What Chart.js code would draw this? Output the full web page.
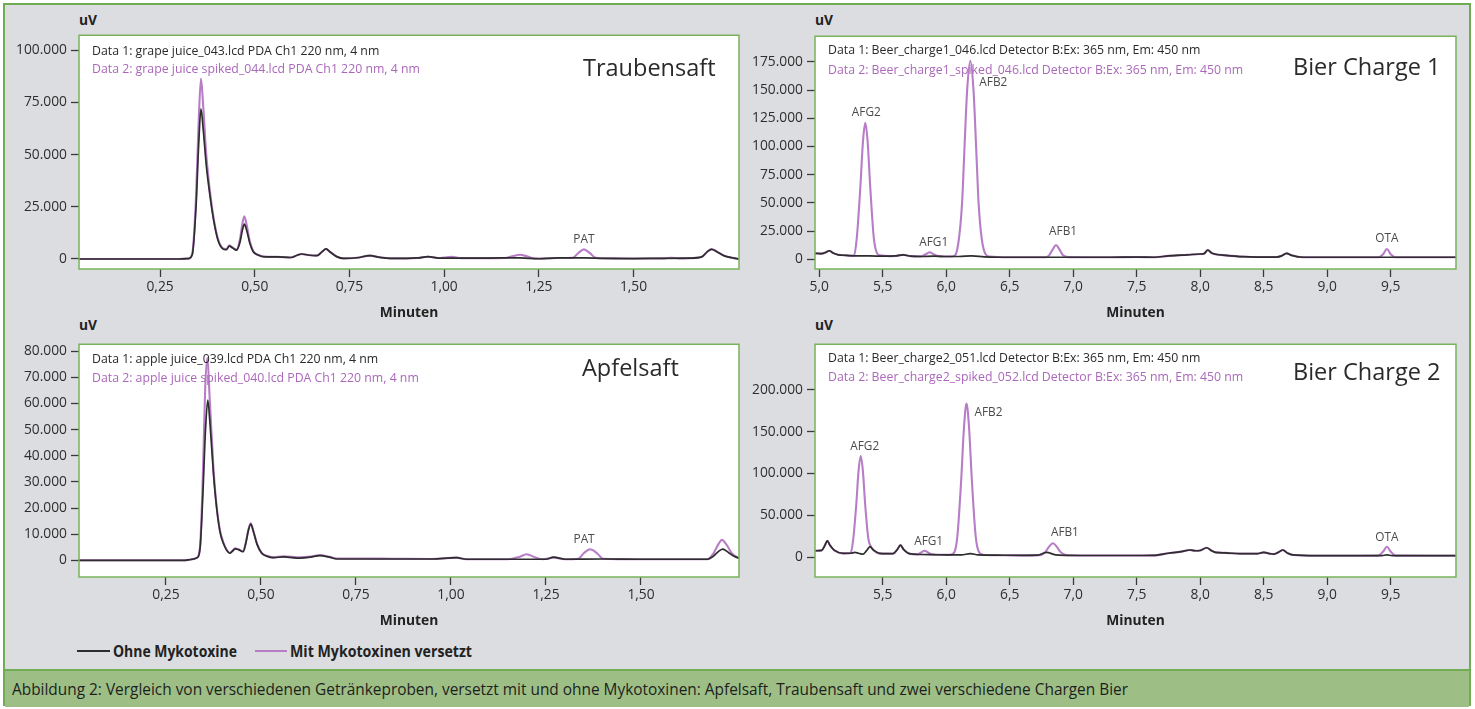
<!DOCTYPE html>
<html>
<head>
<meta charset="utf-8">
<script src="https://cdn.jsdelivr.net/npm/chart.js@4.4.1/dist/chart.umd.min.js"></script>
<style>
  html, body { margin: 0; padding: 0; background: #ffffff; }
  body { width: 1475px; height: 709px; position: relative; overflow: hidden; font-family: "Open Sans", sans-serif; }
  #frame { position: absolute; left: 3px; top: 3px; width: 1464px; height: 699px; border: 2px solid #70ad52; background: #dcdde0; }
  #caption { position: absolute; left: 5px; top: 669px; width: 1464px; height: 36px; background: #9dbf86; border-top: 2px solid #70ad52; }
  #captionText { position: absolute; left: 7px; top: 8px; font-size: 16.5px; color: #1e1e1e; line-height: 20px; white-space: nowrap; }
  canvas { position: absolute; }
  .unit { position: absolute; font-weight: 700; font-size: 13.8px; color: #222; line-height: 16px; }
  .lg-line { position: absolute; height: 2px; }
  .lg-text { position: absolute; font-weight: 700; font-size: 16px; color: #222; line-height: 18px; white-space: nowrap; }
  .fit { transform-origin: left center; }
</style>
</head>
<body>
<div id="frame"></div>

<div class="unit" style="left:79px; top:12px;">uV</div>
<div class="unit" style="left:815px; top:12px;">uV</div>
<div class="unit" style="left:79px; top:317px;">uV</div>
<div class="unit" style="left:815px; top:317px;">uV</div>

<canvas id="cGrape"></canvas>
<canvas id="cBeer1"></canvas>
<canvas id="cApple"></canvas>
<canvas id="cBeer2"></canvas>

<div class="lg-line" style="left:77px; top:650px; width:33px; background:#2d2d2d;"></div>
<div class="lg-text fit" data-width="124" style="left:113px; top:642px;">Ohne Mykotoxine</div>
<div class="lg-line" style="left:255px; top:650px; width:32px; background:#b77dc6;"></div>
<div class="lg-text fit" data-width="182" style="left:290px; top:642px;">Mit Mykotoxinen versetzt</div>

<div id="caption"><div id="captionText" class="fit" data-width="1116">Abbildung 2: Vergleich von verschiedenen Getränkeproben, versetzt mit und ohne Mykotoxinen: Apfelsaft, Traubensaft und zwei verschiedene Chargen Bier</div></div>

<script>
// ---------- Traubensaft (grape juice), PDA 220 nm ----------
const grapeTimeTicks = [0.25, 0.5, 0.75, 1.0, 1.25, 1.5];
const grapeTimeLabels = ['0,25', '0,50', '0,75', '1,00', '1,25', '1,50'];
const grapeUvTicks = [0, 25000, 50000, 75000, 100000];
const grapeUvLabels = ['0', '25.000', '50.000', '75.000', '100.000'];
const grapeOhne = [
  [0.036,0],[0.30,0],[0.325,200],[0.335,2000],[0.345,25000],[0.352,55000],[0.358,72000],[0.364,62000],
  [0.372,45000],[0.382,30000],[0.392,18000],[0.403,9000],[0.415,5000],[0.425,4500],[0.433,6200],[0.442,5200],
  [0.452,4200],[0.461,8000],[0.467,13500],[0.4725,16700],[0.479,13500],[0.487,7500],[0.496,3500],[0.51,1800],
  [0.523,1100],[0.56,1000],[0.595,700],[0.612,1800],[0.624,2400],[0.64,1900],[0.664,1600],[0.678,3500],
  [0.688,4800],[0.70,3200],[0.718,1000],[0.734,300],[0.77,600],[0.804,1600],[0.83,800],[0.857,300],
  [0.90,300],[0.93,500],[0.958,1100],[0.985,400],[1.02,400],[1.08,400],[1.15,500],[1.20,500],[1.25,100],
  [1.30,500],[1.37,500],[1.42,300],[1.50,200],[1.58,300],[1.65,400],[1.68,1000],[1.695,3500],[1.706,4600],
  [1.72,3500],[1.74,1500],[1.76,600],[1.778,0]
];
const grapeMit = [
  [0.036,0],[0.30,0],[0.325,200],[0.335,2500],[0.345,30000],[0.352,66000],[0.358,86500],[0.364,73000],
  [0.372,50000],[0.382,32000],[0.392,19000],[0.403,9500],[0.415,5200],[0.425,4700],[0.433,6500],[0.442,5400],
  [0.452,4500],[0.461,9500],[0.467,16500],[0.4725,20500],[0.479,16000],[0.487,8500],[0.496,3800],[0.51,1900],
  [0.523,1100],[0.56,1000],[0.595,700],[0.612,1800],[0.624,2400],[0.64,1900],[0.664,1600],[0.678,3500],
  [0.688,4800],[0.70,3200],[0.718,1000],[0.734,300],[0.77,600],[0.804,1600],[0.83,800],[0.857,300],
  [0.90,300],[0.93,500],[0.958,1100],[0.985,500],[1.00,700],[1.02,1000],[1.045,400],[1.10,400],[1.16,500],
  [1.18,1300],[1.20,2000],[1.22,1200],[1.24,200],[1.30,500],[1.34,600],[1.355,3000],[1.369,4600],[1.385,2800],
  [1.40,600],[1.45,300],[1.50,200],[1.58,300],[1.60,600],[1.62,300],[1.65,400],[1.68,1000],[1.695,3500],
  [1.706,4800],[1.72,3500],[1.74,1500],[1.76,600],[1.778,0]
];
const grapePeakNames = ['PAT'];
const grapePeakTimes = [1.369];

// ---------- Apfelsaft (apple juice), PDA 220 nm ----------
const appleTimeTicks = [0.25, 0.5, 0.75, 1.0, 1.25, 1.5];
const appleTimeLabels = ['0,25', '0,50', '0,75', '1,00', '1,25', '1,50'];
const appleUvTicks = [0, 10000, 20000, 30000, 40000, 50000, 60000, 70000, 80000];
const appleUvLabels = ['0', '10.000', '20.000', '30.000', '40.000', '50.000', '60.000', '70.000', '80.000'];
const appleOhne = [
  [0.021,0],[0.30,0],[0.315,300],[0.332,1000],[0.34,5000],[0.347,25000],[0.354,50000],[0.36,61300],
  [0.366,52000],[0.375,33000],[0.383,20500],[0.392,11000],[0.401,6500],[0.41,3800],[0.418,2700],[0.425,3500],
  [0.432,4400],[0.442,4000],[0.453,3300],[0.46,6500],[0.467,11500],[0.473,13900],[0.48,11000],[0.49,6000],
  [0.502,2700],[0.515,1600],[0.532,1000],[0.559,1300],[0.603,800],[0.63,1200],[0.655,1800],[0.68,1200],
  [0.70,500],[0.75,500],[0.85,500],[0.95,500],[1.015,1000],[1.04,400],[1.15,400],[1.22,400],[1.25,400],
  [1.27,1200],[1.30,400],[1.40,500],[1.50,400],[1.60,400],[1.675,400],[1.69,1500],[1.705,3500],[1.715,4300],
  [1.73,3000],[1.745,1500],[1.758,800]
];
const appleMit = [
  [0.021,0],[0.30,0],[0.315,300],[0.332,1000],[0.34,6000],[0.347,32000],[0.353,65000],[0.359,77500],
  [0.365,62000],[0.375,35000],[0.383,21000],[0.392,11500],[0.401,6800],[0.41,3900],[0.418,2800],[0.425,3600],
  [0.432,4600],[0.442,4100],[0.453,3400],[0.46,6700],[0.467,11800],[0.473,14200],[0.48,11200],[0.49,6100],
  [0.502,2800],[0.515,1700],[0.532,1100],[0.559,1500],[0.603,1100],[0.63,1400],[0.655,2000],[0.68,1300],
  [0.70,700],[0.75,700],[0.85,600],[0.95,500],[1.015,1000],[1.04,400],[1.15,400],[1.18,1300],[1.199,2300],
  [1.22,1200],[1.24,400],[1.27,1000],[1.30,400],[1.335,600],[1.35,2800],[1.366,4200],[1.385,2600],[1.40,600],
  [1.50,400],[1.60,400],[1.675,400],[1.69,2500],[1.705,6500],[1.713,7800],[1.725,6000],[1.74,2500],[1.758,800]
];
const applePeakNames = ['PAT'];
const applePeakTimes = [1.366];

// ---------- Bier Charge 1, fluorescence Ex 365 / Em 450 nm ----------
const beer1TimeTicks = [5.0, 5.5, 6.0, 6.5, 7.0, 7.5, 8.0, 8.5, 9.0, 9.5];
const beer1TimeLabels = ['5,0', '5,5', '6,0', '6,5', '7,0', '7,5', '8,0', '8,5', '9,0', '9,5'];
const beer1UvTicks = [0, 25000, 50000, 75000, 100000, 125000, 150000, 175000];
const beer1UvLabels = ['0', '25.000', '50.000', '75.000', '100.000', '125.000', '150.000', '175.000'];
const beer1Ohne = [
  [4.967,5300],[5.02,5000],[5.05,6000],[5.08,7600],[5.11,5500],[5.15,4000],[5.215,3500],[5.3,3000],
  [5.4,3000],[5.5,2800],[5.6,3000],[5.66,4000],[5.72,2800],[5.8,2500],[5.9,2800],[6.0,2500],[6.1,2500],
  [6.2,3000],[6.3,2200],[6.5,1800],[6.7,1800],[6.9,1800],[7.1,1800],[7.3,1800],[7.5,2000],[7.64,1800],
  [7.75,3000],[7.9,4000],[8.0,4700],[8.03,5000],[8.06,8200],[8.09,5500],[8.12,4500],[8.2,3500],[8.34,2300],
  [8.45,2000],[8.6,2000],[8.64,3000],[8.68,5300],[8.72,3500],[8.81,1800],[9.0,1800],[9.3,1800],[9.5,1800],
  [9.8,1800],[10.014,1800]
];
const beer1Mit = [
  [4.967,5300],[5.02,5000],[5.05,6000],[5.08,7600],[5.11,5500],[5.15,4000],[5.215,3500],[5.25,3000],
  [5.273,3300],[5.296,19000],[5.3235,63000],[5.345,105000],[5.363,121000],[5.381,105000],[5.4025,63000],
  [5.43,19000],[5.453,6000],[5.48,3500],[5.55,2800],[5.6,3000],[5.66,4000],[5.72,2800],[5.8,2600],[5.84,4500],
  [5.87,6200],[5.90,4500],[5.94,2800],[6.0,2500],[6.04,2500],[6.07,3500],[6.10,18000],[6.125,50000],
  [6.14,88000],[6.165,150000],[6.19,176000],[6.215,150000],[6.24,88000],[6.255,50000],[6.28,18000],
  [6.31,4500],[6.34,2500],[6.5,1800],[6.7,1800],[6.78,1800],[6.81,3500],[6.84,9000],[6.865,12700],
  [6.89,9000],[6.92,3500],[6.96,1900],[7.1,1800],[7.3,1800],[7.5,2000],[7.64,1800],[7.75,3000],[7.9,4000],
  [8.0,4700],[8.03,5000],[8.06,8200],[8.09,5500],[8.12,4500],[8.2,3500],[8.34,2300],[8.45,2000],[8.6,2000],
  [8.64,3000],[8.68,5300],[8.72,3500],[8.81,1800],[9.0,1800],[9.3,1800],[9.40,1800],[9.44,4500],[9.47,9100],
  [9.50,4500],[9.54,1800],[9.8,1800],[10.014,1800]
];
const beer1PeakNames = ['AFG2', 'AFG1', 'AFB2', 'AFB1', 'OTA'];
const beer1PeakTimes = [5.363, 5.87, 6.19, 6.865, 9.47];

// ---------- Bier Charge 2, fluorescence Ex 365 / Em 450 nm ----------
const beer2TimeTicks = [5.5, 6.0, 6.5, 7.0, 7.5, 8.0, 8.5, 9.0, 9.5];
const beer2TimeLabels = ['5,5', '6,0', '6,5', '7,0', '7,5', '8,0', '8,5', '9,0', '9,5'];
const beer2UvTicks = [0, 50000, 100000, 150000, 200000];
const beer2UvLabels = ['0', '50.000', '100.000', '150.000', '200.000'];
const beer2Ohne = [
  [4.967,7500],[5.02,8000],[5.045,14000],[5.064,19500],[5.085,14000],[5.12,8000],[5.19,4400],[5.25,4500],
  [5.28,5500],[5.31,4500],[5.346,3500],[5.375,8000],[5.40,12400],[5.43,8000],[5.475,4400],[5.58,4000],
  [5.615,9000],[5.64,14300],[5.665,9000],[5.71,4000],[5.8,3000],[5.9,2800],[6.0,2600],[6.12,2600],[6.19,4000],
  [6.25,2600],[6.4,2200],[6.6,2000],[6.72,2200],[6.79,5600],[6.86,2600],[6.95,2000],[7.2,1800],[7.5,1800],
  [7.63,2000],[7.75,4500],[7.85,6500],[7.92,8400],[7.96,7500],[8.0,7800],[8.05,11100],[8.09,7500],[8.12,5600],
  [8.2,5000],[8.31,4000],[8.45,4000],[8.5,5600],[8.55,4000],[8.58,3500],[8.62,6000],[8.65,8400],[8.69,4500],
  [8.73,2500],[8.92,1600],[9.2,1600],[9.43,1700],[9.47,2500],[9.51,1700],[9.8,1600],[10.014,1600]
];
const beer2Mit = [
  [4.967,7500],[5.02,8000],[5.045,14000],[5.064,19500],[5.085,14000],[5.12,8000],[5.19,4400],[5.23,4500],
  [5.247,5000],[5.267,20000],[5.2915,62000],[5.31,103000],[5.327,120700],[5.344,103000],[5.3625,62000],
  [5.387,22000],[5.407,12400],[5.43,8000],[5.475,4400],[5.58,4000],[5.615,9000],[5.64,14300],[5.665,9000],
  [5.71,4000],[5.77,3200],[5.80,5200],[5.83,7500],[5.86,5200],[5.89,3000],[5.95,2700],[6.03,2600],[6.065,6000],
  [6.088,25000],[6.118,92000],[6.14,155000],[6.16,183700],[6.18,155000],[6.202,92000],[6.232,25000],
  [6.255,7000],[6.29,2800],[6.4,2200],[6.6,2000],[6.74,2200],[6.78,6000],[6.81,12500],[6.84,16400],
  [6.87,12500],[6.90,6000],[6.95,2100],[7.2,1800],[7.5,1800],[7.63,2000],[7.75,4500],[7.85,6500],[7.92,8400],
  [7.96,7500],[8.0,7800],[8.05,11100],[8.09,7500],[8.12,5600],[8.2,5000],[8.31,4000],[8.45,4000],[8.5,5600],
  [8.55,4000],[8.58,3500],[8.62,6000],[8.65,8400],[8.69,4500],[8.73,2500],[8.92,1600],[9.2,1600],[9.40,1700],
  [9.44,6500],[9.47,12300],[9.50,6500],[9.54,1700],[9.8,1600],[10.014,1600]
];
const beer2PeakNames = ['AFG2', 'AFG1', 'AFB2', 'AFB1', 'OTA'];
const beer2PeakTimes = [5.327, 5.83, 6.16, 6.84, 9.47];

// ---------- layout & style ----------
const FONT = '"Open Sans", "Noto Sans", sans-serif';
const COLOR_OHNE = '#2d2d2d';
const COLOR_MIT = '#b77dc6';
const COLOR_MIT_TEXT = '#ab68bb';
const BOX_GREEN = '#78b25c';
const AXIS_W = 75, AXIS_H = 52, PAD_T = 12, PAD_R = 10;

// Condensed legend / caption lettering: squeeze each text to its set width
document.querySelectorAll('.fit').forEach(el => {
  const w = el.getBoundingClientRect().width;
  el.style.transform = 'scaleX(' + (Number(el.dataset.width) / w) + ')';
});

// Plot box, axis ranges and the positions of the texts inside each panel
const panels = [
  { id: 'cGrape', box: [79, 35, 739, 269], x: [0.036, 1.7785], y: [-4800, 107200],
    xTicks: grapeTimeTicks, xLabels: grapeTimeLabels, yTicks: grapeUvTicks, yLabels: grapeUvLabels,
    ohne: grapeOhne, mit: grapeMit, peakNames: grapePeakNames, peakTimes: grapePeakTimes,
    peakOffsets: [[0, -10]],
    info1: 'Data 1: grape juice_043.lcd PDA Ch1 220 nm, 4 nm',
    info2: 'Data 2: grape juice spiked_044.lcd PDA Ch1 220 nm, 4 nm',
    infoBase: [19.3, 38], title: 'Traubensaft', titlePos: [504, 41] },
  { id: 'cBeer1', box: [815, 36, 1456, 269], x: [4.967, 10.014], y: [-8600, 197800],
    xTicks: beer1TimeTicks, xLabels: beer1TimeLabels, yTicks: beer1UvTicks, yLabels: beer1UvLabels,
    ohne: beer1Ohne, mit: beer1Mit, peakNames: beer1PeakNames, peakTimes: beer1PeakTimes,
    peakOffsets: [[1, -10], [4, -10], [23, 22], [7, -13], [0, -10]],
    info1: 'Data 1: Beer_charge1_046.lcd Detector B:Ex: 365 nm, Em: 450 nm',
    info2: 'Data 2: Beer_charge1_spiked_046.lcd Detector B:Ex: 365 nm, Em: 450 nm',
    infoBase: [18, 37.3], title: 'Bier Charge 1', titlePos: [478, 39] },
  { id: 'cApple', box: [79, 344, 739, 577], x: [0.0211, 1.7579], y: [-6400, 82700],
    xTicks: appleTimeTicks, xLabels: appleTimeLabels, yTicks: appleUvTicks, yLabels: appleUvLabels,
    ohne: appleOhne, mit: appleMit, peakNames: applePeakNames, peakTimes: applePeakTimes,
    peakOffsets: [[-6, -10]],
    info1: 'Data 1: apple juice_039.lcd PDA Ch1 220 nm, 4 nm',
    info2: 'Data 2: apple juice spiked_040.lcd PDA Ch1 220 nm, 4 nm',
    infoBase: [18.3, 37.7], title: 'Apfelsaft', titlePos: [503, 31.7] },
  { id: 'cBeer2', box: [815, 344, 1456, 577], x: [4.967, 10.014], y: [-23900, 254600],
    xTicks: beer2TimeTicks, xLabels: beer2TimeLabels, yTicks: beer2UvTicks, yLabels: beer2UvLabels,
    ohne: beer2Ohne, mit: beer2Mit, peakNames: beer2PeakNames, peakTimes: beer2PeakTimes,
    peakOffsets: [[4, -10], [4, -9], [22, 9], [12, -11], [0, -9]],
    info1: 'Data 1: Beer_charge2_051.lcd Detector B:Ex: 365 nm, Em: 450 nm',
    info2: 'Data 2: Beer_charge2_spiked_052.lcd Detector B:Ex: 365 nm, Em: 450 nm',
    infoBase: [17.7, 37], title: 'Bier Charge 2', titlePos: [478, 35.3] }
];

const toPoints = pairs => pairs.map(p => ({ x: p[0], y: p[1] }));

// White plot area with green frame, sample info, panel title and peak names
const panelDecor = {
  id: 'panelDecor',
  beforeDraw(chart) {
    const { ctx, chartArea: a } = chart;
    ctx.save();
    ctx.fillStyle = '#ffffff';
    ctx.fillRect(a.left, a.top, a.right - a.left, a.bottom - a.top);
    ctx.restore();
  },
  afterDraw(chart, args, opts) {
    const p = opts.panel;
    const { ctx, chartArea: a } = chart;
    const xs = chart.scales.x, ys = chart.scales.y;
    ctx.save();
    ctx.strokeStyle = BOX_GREEN;
    ctx.lineWidth = 1.5;
    ctx.strokeRect(a.left, a.top, a.right - a.left, a.bottom - a.top);

    ctx.textBaseline = 'alphabetic';
    ctx.textAlign = 'left';
    ctx.font = '12.3px ' + FONT;
    ctx.fillStyle = '#2a2a2a';
    ctx.fillText(p.info1, a.left + 13, a.top + p.infoBase[0]);
    ctx.fillStyle = COLOR_MIT_TEXT;
    ctx.fillText(p.info2, a.left + 13, a.top + p.infoBase[1]);

    ctx.font = '23.5px ' + FONT;
    ctx.fillStyle = '#2a2a2a';
    ctx.fillText(p.title, a.left + p.titlePos[0], a.top + p.titlePos[1]);

    // peak names next to the apex of the spiked trace
    ctx.font = '11.8px ' + FONT;
    ctx.fillStyle = '#4a4a4a';
    ctx.textAlign = 'center';
    ctx.textBaseline = 'middle';
    p.peakNames.forEach((name, i) => {
      const t = p.peakTimes[i];
      let apex = null;
      p.mit.forEach(pt => {
        if (Math.abs(pt[0] - t) < 0.03 && (apex === null || pt[1] > apex[1])) apex = pt;
      });
      const px = xs.getPixelForValue(apex[0]) + p.peakOffsets[i][0];
      const py = ys.getPixelForValue(apex[1]) + p.peakOffsets[i][1];
      ctx.fillText(name, px, py);
    });
    ctx.restore();
  }
};

panels.forEach(p => {
  const [l, t, r, b] = p.box;
  const canvas = document.getElementById(p.id);
  const w = (r - l) + AXIS_W + PAD_R;
  const h = (b - t) + PAD_T + AXIS_H;
  canvas.width = w; canvas.height = h;
  canvas.style.left = (l - AXIS_W) + 'px';
  canvas.style.top = (t - PAD_T) + 'px';
  canvas.style.width = w + 'px';
  canvas.style.height = h + 'px';

  new Chart(canvas, {
    type: 'line',
    data: {
      datasets: [
        { label: 'Ohne Mykotoxine', data: toPoints(p.ohne), borderColor: COLOR_OHNE, borderWidth: 1.7 },
        { label: 'Mit Mykotoxinen versetzt', data: toPoints(p.mit), borderColor: COLOR_MIT, borderWidth: 2.1 }
      ]
    },
    options: {
      responsive: false,
      animation: false,
      devicePixelRatio: 1,
      layout: { padding: { top: PAD_T, right: PAD_R, left: 0, bottom: 0 } },
      elements: {
        point: { radius: 0, hoverRadius: 0 },
        line: { cubicInterpolationMode: 'monotone', borderJoinStyle: 'round', fill: false }
      },
      plugins: {
        legend: { display: false },
        tooltip: { enabled: false },
        panelDecor: { panel: p }
      },
      scales: {
        x: {
          type: 'linear', min: p.x[0], max: p.x[1],
          afterFit(s) { s.height = AXIS_H; },
          afterBuildTicks(s) { s.ticks = p.xTicks.map(v => ({ value: v })); },
          ticks: { autoSkip: false, maxRotation: 0, color: '#2e2e2e', padding: 2,
                   font: { family: FONT, size: 13.8 }, callback: (v, i) => p.xLabels[i] },
          grid: { drawOnChartArea: false, drawTicks: true, tickLength: 8, tickColor: '#3a3a3a', tickWidth: 1.3 },
          border: { display: false },
          title: { display: true, text: 'Minuten', color: '#222', padding: { top: 0, bottom: 0 },
                   font: { family: FONT, size: 13.8, weight: 'bold' } }
        },
        y: {
          type: 'linear', min: p.y[0], max: p.y[1],
          afterFit(s) { s.width = AXIS_W; },
          afterBuildTicks(s) { s.ticks = p.yTicks.map(v => ({ value: v })); },
          ticks: { autoSkip: false, color: '#2e2e2e', padding: 4,
                   font: { family: FONT, size: 13.8 }, callback: (v, i) => p.yLabels[i] },
          grid: { drawOnChartArea: false, drawTicks: true, tickLength: 8, tickColor: '#3a3a3a', tickWidth: 1.3 },
          border: { display: false }
        }
      }
    },
    plugins: [panelDecor]
  });
});
</script>
</body>
</html>
